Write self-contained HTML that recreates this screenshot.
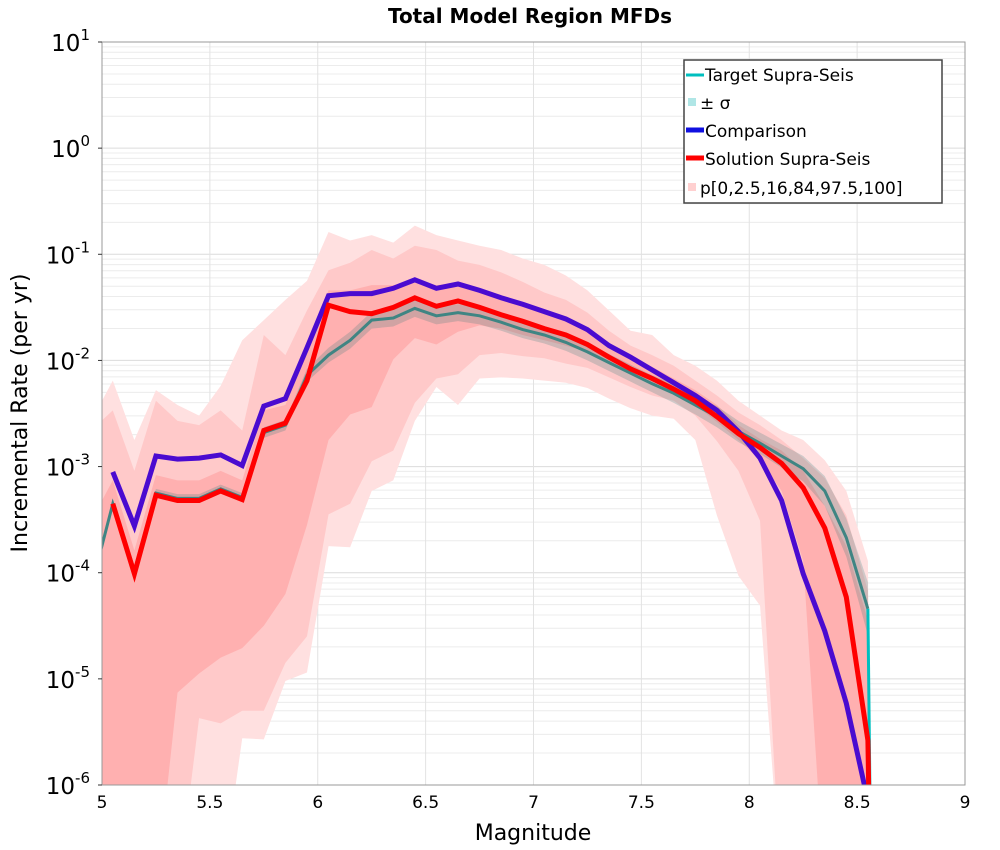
<!DOCTYPE html>
<html><head><meta charset="utf-8"><style>
html,body{margin:0;padding:0;background:#fff;width:1000px;height:850px;overflow:hidden;}
svg{display:block;font-family:"DejaVu Sans","Liberation Sans",sans-serif;}
</style></head><body>
<svg id="chart" width="1000" height="850" viewBox="0 0 1000 850">
<defs><clipPath id="plotclip"><rect x="102" y="42" width="863" height="743"/></clipPath></defs>
<text x="530" y="23" text-anchor="middle" font-size="20" font-weight="bold">Total Model Region MFDs</text>
<g id="grid"></g>
<g id="bands" clip-path="url(#plotclip)"></g>
<g id="lines" clip-path="url(#plotclip)"></g>
<rect x="102" y="42" width="863" height="743" fill="none" stroke="#999" stroke-width="1"/>
<g id="axes"></g>
<text x="533" y="840" text-anchor="middle" font-size="22">Magnitude</text>
<text transform="translate(27,413) rotate(-90)" text-anchor="middle" font-size="22">Incremental Rate (per yr)</text>
<g>
<rect x="684" y="60" width="258" height="143" fill="#fff" stroke="#444" stroke-width="1.5"/>
<line x1="686" y1="75" x2="704" y2="75" stroke="#00bfbf" stroke-width="3"/>
<text x="705" y="81" font-size="17">Target Supra-Seis</text>
<rect x="688" y="98" width="8" height="8" fill="#b0e6e6"/>
<text x="700" y="109" font-size="17">± σ</text>
<line x1="686" y1="130" x2="704" y2="130" stroke="#1010e0" stroke-width="5"/>
<text x="705" y="137" font-size="17">Comparison</text>
<line x1="686" y1="158" x2="704" y2="158" stroke="#ff0000" stroke-width="5"/>
<text x="705" y="165" font-size="17">Solution Supra-Seis</text>
<rect x="688" y="183" width="8" height="8" fill="#ffd0d0"/>
<text x="700" y="194" font-size="17">p[0,2.5,16,84,97.5,100]</text>
</g>
</svg>
<script>
const mags = [4.95,5.05,5.15,5.25,5.35,5.45,5.55,5.65,5.75,5.85,5.95,6.05,6.15,6.25,6.35,6.45,6.55,6.65,6.75,6.85,6.95,7.05,7.15,7.25,7.35,7.45,7.55,7.65,7.75,7.85,7.95,8.05,8.15,8.25,8.35,8.45,8.55,8.57];
const targetLog = [-4.14,-3.35,-3.98,-3.25,-3.30,-3.30,-3.21,-3.29,-2.68,-2.61,-2.14,-1.95,-1.81,-1.62,-1.60,-1.51,-1.58,-1.55,-1.58,-1.64,-1.71,-1.76,-1.83,-1.92,-2.02,-2.12,-2.22,-2.31,-2.42,-2.53,-2.67,-2.78,-2.90,-3.02,-3.23,-3.67,-4.34,-20];
const sigmaLog = [0.04,0.04,0.04,0.04,0.04,0.04,0.04,0.04,0.05,0.05,0.06,0.07,0.08,0.08,0.08,0.08,0.08,0.08,0.08,0.08,0.08,0.08,0.08,0.08,0.08,0.08,0.08,0.09,0.09,0.10,0.10,0.10,0.11,0.12,0.14,0.18,0.25,0.25];
const comparisonLog = [null,-3.05,-3.56,-2.90,-2.93,-2.92,-2.89,-2.99,-2.43,-2.36,-1.88,-1.39,-1.37,-1.37,-1.32,-1.24,-1.32,-1.28,-1.34,-1.41,-1.47,-1.54,-1.61,-1.71,-1.86,-1.97,-2.09,-2.21,-2.33,-2.47,-2.67,-2.92,-3.32,-4.01,-4.55,-5.23,-6.15,-20];
const solutionLog = [null,-3.35,-4.01,-3.27,-3.32,-3.32,-3.23,-3.31,-2.66,-2.59,-2.19,-1.48,-1.54,-1.56,-1.50,-1.41,-1.49,-1.44,-1.50,-1.57,-1.63,-1.70,-1.76,-1.85,-1.97,-2.08,-2.17,-2.27,-2.38,-2.53,-2.69,-2.82,-2.97,-3.20,-3.58,-4.23,-5.58,-20];
const p100Log = [-2.57,-2.19,-2.75,-2.28,-2.42,-2.52,-2.24,-1.81,-1.62,-1.43,-1.25,-0.79,-0.87,-0.82,-0.89,-0.73,-0.82,-0.87,-0.92,-0.96,-1.04,-1.10,-1.20,-1.34,-1.53,-1.72,-1.76,-1.95,-2.05,-2.19,-2.38,-2.52,-2.66,-2.75,-2.94,-3.23,-3.89,-20];
const p0Log = [-7,-7,-7,-7,-7,-7,-7,-5.56,-5.57,-5.02,-4.94,-3.75,-3.76,-3.23,-3.13,-2.57,-2.25,-2.42,-2.17,-2.16,-2.17,-2.19,-2.21,-2.26,-2.36,-2.45,-2.52,-2.55,-2.75,-3.46,-4.03,-4.31,-7,-7,-7,-7,-7,-20];
const p975Log = [-2.66,-2.47,-3.04,-2.38,-2.57,-2.61,-2.47,-2.66,-1.76,-1.95,-1.53,-1.15,-1.08,-0.96,-1.04,-0.92,-0.96,-1.06,-1.10,-1.17,-1.26,-1.36,-1.43,-1.55,-1.72,-1.86,-1.95,-2.05,-2.19,-2.33,-2.49,-2.61,-2.75,-2.92,-3.11,-3.46,-4.17,-20];
const p25Log = [-7,-7,-7,-7,-7,-5.37,-5.42,-5.30,-5.30,-4.85,-4.60,-3.45,-3.35,-2.95,-2.85,-2.40,-2.17,-2.13,-1.95,-1.93,-1.96,-1.98,-2.03,-2.07,-2.16,-2.25,-2.33,-2.38,-2.52,-2.76,-3.04,-3.51,-7,-7,-7,-7,-7,-20];
const p84Log = [-3.51,-3.13,-3.79,-3.08,-3.13,-3.13,-3.04,-3.13,-2.47,-2.42,-1.91,-1.34,-1.34,-1.29,-1.29,-1.25,-1.29,-1.27,-1.34,-1.39,-1.45,-1.53,-1.60,-1.72,-1.84,-1.95,-2.06,-2.17,-2.28,-2.42,-2.61,-2.74,-2.85,-3.04,-3.37,-3.75,-4.45,-20];
const p16Log = [-7,-7,-7,-7,-5.13,-4.95,-4.80,-4.71,-4.50,-4.20,-3.55,-2.75,-2.51,-2.44,-1.99,-1.79,-1.85,-1.73,-1.67,-1.70,-1.76,-1.81,-1.86,-1.92,-2.02,-2.11,-2.21,-2.30,-2.42,-2.58,-2.75,-2.94,-3.23,-3.89,-7,-7,-7,-20];
const xTicks = [5,5.5,6,6.5,7,7.5,8,8.5,9];
const xTickLabels = ["5","5.5","6","6.5","7","7.5","8","8.5","9"];
const yDecades = [1,0,-1,-2,-3,-4,-5,-6];

const X0=102,X1=965,Y0=42,Y1=785;
function xs(m){return X0+(m-5)/4*(X1-X0);}
function ys(l){const c=Math.max(l,-8);return Y0+(1-c)/7*(Y1-Y0);}
const NS='http://www.w3.org/2000/svg';
function mk(tag,attrs,parent){const e=document.createElementNS(NS,tag);for(const k in attrs)e.setAttribute(k,attrs[k]);parent.appendChild(e);return e;}

const grid=document.getElementById('grid');
for(let d=-6;d<1;d++){for(let k=2;k<10;k++){const y=ys(d+Math.log10(k));
 const l=mk('line',{x1:X0,x2:X1,y1:y,y2:y,stroke:'#ececec','stroke-width':1},grid);
 
 }}
yDecades.forEach(d=>{const y=ys(d);
 const l=mk('line',{x1:X0,x2:X1,y1:y,y2:y,stroke:'#dcdcdc','stroke-width':1},grid);
 
 });
xTicks.forEach(m=>{const x=xs(m);
 const l=mk('line',{x1:x,x2:x,y1:Y0,y2:Y1,stroke:'#e2e2e2','stroke-width':1},grid);
 
 });

const axes=document.getElementById('axes');
xTicks.forEach((m,i)=>{const t=mk('text',{x:xs(m),y:808,'text-anchor':'middle','font-size':17},axes);t.textContent=xTickLabels[i];
 
 });
yDecades.forEach(d=>{const y=ys(d);
 const t=mk('text',{x:90,y:y+9,'text-anchor':'end','font-size':23},axes);
 
 
 const b=document.createElementNS(NS,'tspan');b.textContent='10';t.appendChild(b);
 const s=document.createElementNS(NS,'tspan');s.setAttribute('dy','-11');s.setAttribute('font-size','15');s.textContent=String(d);t.appendChild(s);
 const tk=mk('line',{x1:X0-4,x2:X0,y1:y,y2:y,stroke:'#333'},axes);
 
 });

function band(lo,hi,fill,name,g){
 let pts=[];for(let i=0;i<mags.length;i++)pts.push(xs(mags[i])+','+ys(hi[i]));
 for(let i=mags.length-1;i>=0;i--)pts.push(xs(mags[i])+','+ys(lo[i]));
 const p=mk('polygon',{points:pts.join(' '),fill:fill},g);
 
 }
const bands=document.getElementById('bands');
band(p0Log,p100Log,'#ffe0e0','band-p0-p100',bands);
band(p25Log,p975Log,'#ffc9c9','band-p2.5-p97.5',bands);
band(p16Log,p84Log,'#ffb0b0','band-p16-p84',bands);
const sLo=targetLog.map((v,i)=>v-sigmaLog[i]), sHi=targetLog.map((v,i)=>v+sigmaLog[i]);
band(sLo,sHi,'rgba(40,120,120,0.22)','sigma-band',bands);

function line(arr,color,w,name,from,to){
 let d='';let started=false;
 for(let i=from;i<=to;i++){if(arr[i]===null)continue;d+=(started?'L':'M')+xs(mags[i]).toFixed(1)+','+ys(arr[i]).toFixed(1);started=true;}
 const p=mk('path',{d:d,fill:'none',stroke:color,'stroke-width':w,'stroke-linejoin':'miter'},document.getElementById('lines'));
 
 }
const N=mags.length-1;
line(targetLog,'#3f8583',3,'target-line',0,N-1);
line(targetLog,'#00bfbf',3,'target-line-drop',N-1,N);
line(comparisonLog,'#4a0bd0',5,'comparison-line',0,N);
line(solutionLog,'#ff0000',5,'solution-line',0,N);
</script>
</body></html>
